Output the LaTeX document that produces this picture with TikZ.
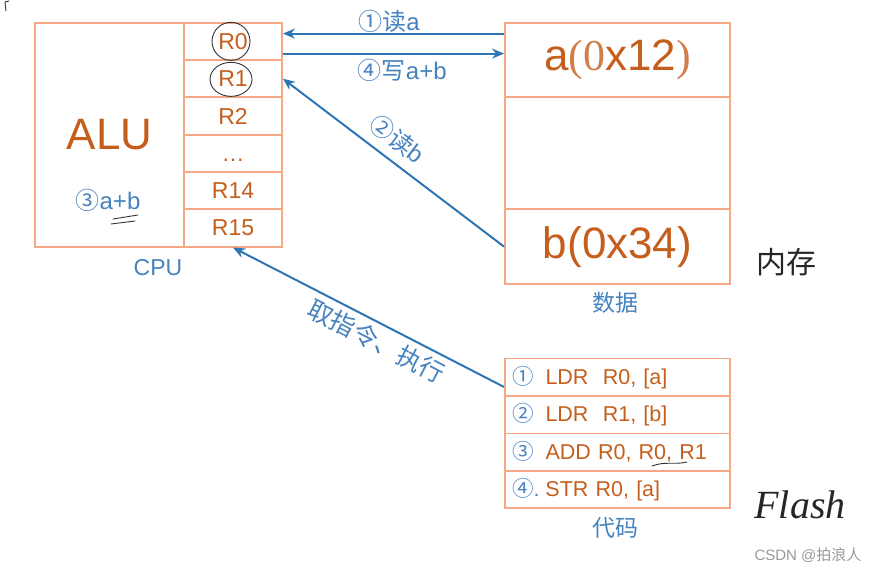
\documentclass[tikz,border=0pt]{standalone}
\usepackage{fontspec}
\setmainfont{Liberation Sans}
\newfontfamily\cjk{Noto Sans CJK SC}
\newfontfamily\serif{Liberation Serif}
\usepackage{tikz}
\usetikzlibrary{arrows.meta}
\usepackage{xcolor}
\definecolor{boxline}{RGB}{244,168,134}
\definecolor{codeorange}{RGB}{197,94,28}
\definecolor{arrblue}{RGB}{46,117,182}
\definecolor{lblue}{RGB}{70,130,190}
\newcommand{\fsz}[1]{\fontsize{#1}{#1}\selectfont}

\begin{document}
\begin{tikzpicture}[x=1pt, y=-1pt, >={Stealth[length=12pt, width=10pt]},
reg/.style={draw=boxline, line width=1.8pt, minimum width=98pt, minimum height=37.33pt, text=codeorange, font=\fsz{23}},
mem/.style={draw=boxline, line width=1.8pt, minimum width=225pt, text=codeorange, font=\fsz{44}},
code/.style={draw=boxline, line width=1.8pt, minimum width=225pt, minimum height=37.5pt, text width=211pt, inner sep=7pt, align=left, text=codeorange, font=\fsz{21.5}},
lbl/.style={text=lblue, inner sep=0pt, font=\fsz{24}},
arr/.style={->, line width=2pt, draw=arrblue},
hand/.style={draw=black!80, line width=0.9pt, line cap=round}]
\useasboundingbox (0,0) rectangle (869,569);
% CPU
\node[draw=boxline, line width=1.8pt, minimum width=149pt, minimum height=224pt, text=codeorange, font=\fsz{44}] (alu) at (109.5,134.7) {ALU};
\node[lbl] (add) at (108,200) {{\cjk ③}a+b};
\foreach \name/\txt [count=\i from 0] in {r0/R0, r1/R1, r2/R2, rdots/\vphantom{R}\dots, r14/R14, r15/R15}
  \node[reg] (\name) at (233,{41.33+37.33*\i}) {\txt};
\node[lbl, font=\fsz{23}] (cpu) at (158,268) {CPU};
% 数据
\node[mem, minimum height=74.6pt] (mema) at (617.5,60) {a{\serif\color{codeorange!80}(0}x12{\serif\color{codeorange!80})}};
\node[mem, minimum height=112pt] (memmid) at (617.5,153.3) {};
\node[mem, minimum height=74.7pt] (memb) at (617.5,246.7) {b(0x34)};
\node[lbl, font=\cjk\fsz{23}] (data) at (615,303) {数据};
% 代码
\node[code] (c1) at (617.5,377.2) {{\cjk\color{lblue}①}\hspace{12pt}LDR\ \ R0, [a]};
\node[code] (c2) at (617.5,414.7) {{\cjk\color{lblue}②}\hspace{12pt}LDR\ \ R1, [b]};
\node[code] (c3) at (617.5,452.2) {{\cjk\color{lblue}③}\hspace{12pt}ADD R0, R0, R1};
\node[code] (c4) at (617.5,489.5) {{\cjk\color{lblue}④}{\color{lblue}.}\hspace{6pt}STR R0, [a]};
\node[lbl, font=\cjk\fsz{23}] (codelbl) at (615,528) {代码};
% arrows
\coordinate (rda) at (0,33.6);
\coordinate (wra) at (0,53.6);
\coordinate (fetch) at (0,387);
\draw[arr] (mema.west |- rda) -- node[lbl, pos=0.52, above] {{\cjk ①读}a} (r0.east |- rda);
\draw[arr] (r0.east |- wra) -- node[lbl, pos=0.54, below=5pt] {{\cjk ④写}a+b} (mema.west |- wra);
\draw[arr] (memb.west) -- node[lbl, pos=0.54, sloped, above=9pt] {{\cjk ②读}b} (r1.east);
\draw[arr] (c1.west |- fetch) -- node[lbl, pos=0.44, sloped, below=5pt, font=\cjk\fsz{25}] {取指令、执行} (r15.south);
% hand notes
\draw[hand] (r0) ++(-2,0) ellipse (19pt and 19pt);
\draw[hand] (r1) ++(-2,0.7) ellipse (21pt and 17pt);
\draw[hand] (113,219) -- (138,215);
\draw[hand] (111,224) -- (135,221);
\draw[hand] (652,466) .. controls (665,461) and (675,465) .. (687,462);
\draw[hand] (9,1) -- (5,2) -- (6,11);
\node[text=black!85, font=\cjk\fsz{30}] (neicun) at (786,262) {内存};
\node[text=black!85, font=\serif\itshape\fsz{40}] (flash) at (800,505) {Flash};
\node[text=black!40, font=\fsz{15}] (mark) at (808,555) {CSDN @{\cjk 拍浪人}};
\end{tikzpicture}
\end{document}
